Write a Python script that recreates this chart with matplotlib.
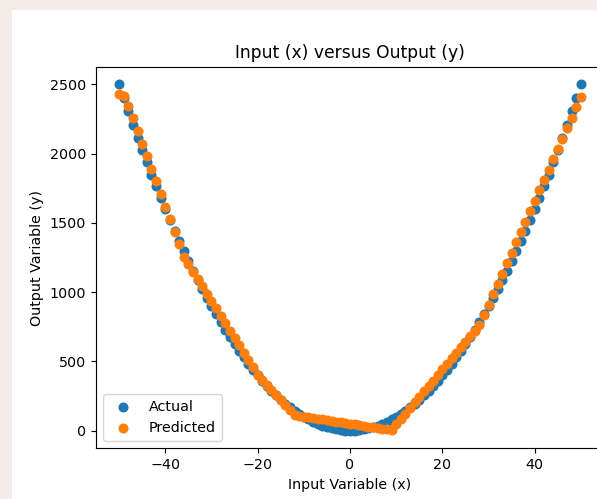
import matplotlib
matplotlib.use("Agg")
import matplotlib.pyplot as plt
from matplotlib.patches import Rectangle

x_values = [-50, -49, -48, -47, -46, -45, -44, -43, -42, -41,
            -40, -39, -38, -37, -36, -35, -34, -33, -32, -31,
            -30, -29, -28, -27, -26, -25, -24, -23, -22, -21,
            -20, -19, -18, -17, -16, -15, -14, -13, -12, -11,
            -10, -9, -8, -7, -6, -5, -4, -3, -2, -1,
            0, 1, 2, 3, 4, 5, 6, 7, 8, 9,
            10, 11, 12, 13, 14, 15, 16, 17, 18, 19,
            20, 21, 22, 23, 24, 25, 26, 27, 28, 29,
            30, 31, 32, 33, 34, 35, 36, 37, 38, 39,
            40, 41, 42, 43, 44, 45, 46, 47, 48, 49, 50]

actual_y = [2500, 2401, 2304, 2209, 2116, 2025, 1936, 1849, 1764, 1681,
            1600, 1521, 1444, 1369, 1296, 1225, 1156, 1089, 1024, 961,
            900, 841, 784, 729, 676, 625, 576, 529, 484, 441,
            400, 361, 324, 289, 256, 225, 196, 169, 144, 121,
            100, 81, 64, 49, 36, 25, 16, 9, 4, 1,
            0, 1, 4, 9, 16, 25, 36, 49, 64, 81,
            100, 121, 144, 169, 196, 225, 256, 289, 324, 361,
            400, 441, 484, 529, 576, 625, 676, 729, 784, 841,
            900, 961, 1024, 1089, 1156, 1225, 1296, 1369, 1444, 1521,
            1600, 1681, 1764, 1849, 1936, 2025, 2116, 2209, 2304, 2401, 2500]

predicted_y = [2430, 2415, 2345, 2254, 2163, 2072, 1981, 1890, 1799, 1708,
               1617, 1526, 1435, 1344, 1253, 1200, 1147, 1094, 1041, 988,
               935, 882, 829, 776, 723, 670, 617, 564, 511, 458,
               405, 368, 332, 295, 258, 222, 185, 149, 112, 107,
               102, 97, 92, 86, 81, 76, 71, 66, 61, 56,
               51, 46, 41, 36, 30, 25, 20, 15, 10, 5,
               45, 84, 124, 164, 204, 243, 283, 323, 362, 402,
               442, 482, 521, 561, 601, 640, 680, 720, 760, 835,
               910, 985, 1060, 1134, 1209, 1284, 1359, 1434, 1509, 1584,
               1659, 1734, 1809, 1884, 1958, 2033, 2108, 2183, 2258, 2333, 2408]

DPI = 103
W, H = 597, 499
fig = plt.figure(figsize=(W / DPI, H / DPI), dpi=DPI)
fig.patch.set_facecolor("white")

# pale page border around the screenshot (left and top strips)
border = "#f4ebe6"
fig.add_artist(Rectangle((0, 0), 12 / W, 1, transform=fig.transFigure,
                         facecolor=border, edgecolor="none", zorder=-10))
fig.add_artist(Rectangle((0, 1 - 10 / H), 1, 10 / H, transform=fig.transFigure,
                         facecolor=border, edgecolor="none", zorder=-10))

ax = fig.add_axes([96 / W, (H - 448) / H, 508 / W, 381 / H])

ax.scatter(x_values, actual_y, color="#1f77b4", label="Actual")
ax.scatter(x_values, predicted_y, color="#ff7f0e", label="Predicted")

ax.set_title("Input (x) versus Output (y)")
ax.set_xlabel("Input Variable (x)")
ax.set_ylabel("Output Variable (y)")
ax.legend(loc="lower left")

fig.savefig("out.png", dpi=DPI)
